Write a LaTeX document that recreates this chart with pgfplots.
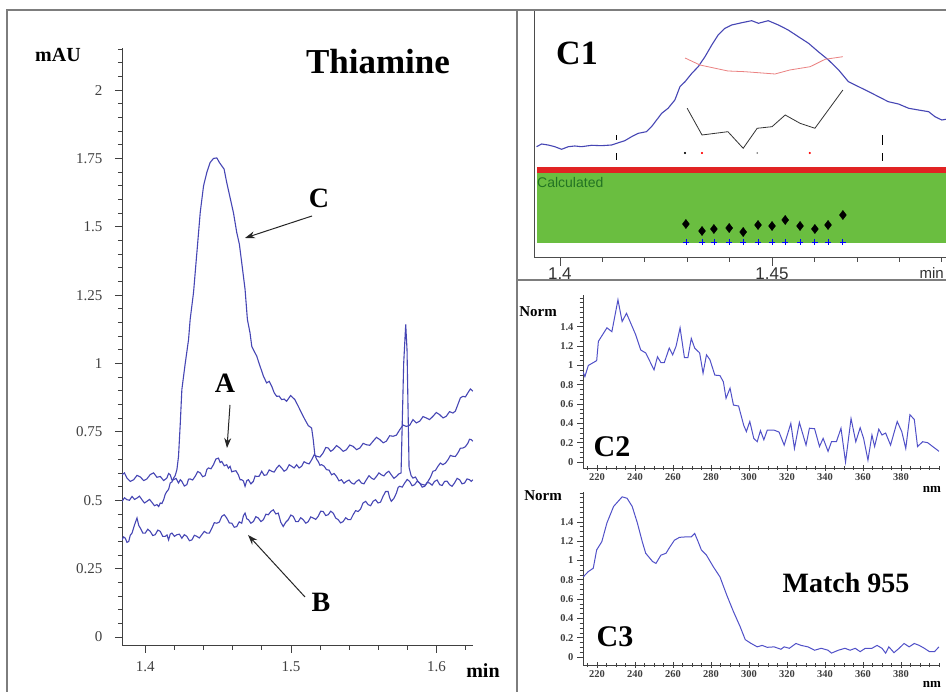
\documentclass[border=0pt]{standalone}
\usepackage{pgfplots}
\pgfplotsset{compat=1.18}
\usepackage{fontspec}
\setmainfont{Liberation Serif}
\newfontfamily\sansf{Liberation Sans}
\usetikzlibrary{arrows.meta}
\definecolor{curve}{RGB}{70,70,180}
\definecolor{spec}{RGB}{80,80,200}
\definecolor{frame}{RGB}{125,125,125}
\definecolor{band}{RGB}{106,190,64}
\definecolor{redband}{RGB}{225,35,35}
\definecolor{pinkc}{RGB}{235,130,130}
\definecolor{calc}{RGB}{35,115,35}
\begin{document}
\begin{tikzpicture}[x=1pt,y=1pt]
\path[use as bounding box] (0,0) rectangle (946,692);
\clip (0,0) rectangle (946,692);
\fill[white] (0,0) rectangle (946,692);

% ---------------- main chromatogram ----------------
\begin{axis}[at={(122pt,46pt)}, anchor=south west, scale only axis,
  width=351pt, height=598pt,
  xmin=1.384, xmax=1.625, ymin=-0.033, ymax=2.154,
  axis x line=bottom, axis y line=left,
  axis line style={-, draw=black!75, line width=1pt},
  xtick={1.4,1.5,1.6}, minor xtick={1.42,1.44,1.46,1.48,1.52,1.54,1.56,1.58,1.62},
  ytick={0,0.25,0.5,0.75,1,1.25,1.5,1.75,2},
  minor ytick={0.05,0.1,0.15,0.2,0.3,0.35,0.4,0.45,0.55,0.6,0.65,0.7,0.8,0.85,0.9,0.95,1.05,1.1,1.15,1.2,1.3,1.35,1.4,1.45,1.55,1.6,1.65,1.7,1.8,1.85,1.9,1.95,2.05,2.1,2.15},
  tick align=outside, major tick length=7pt, minor tick length=4pt,
  tick style={black!75, line width=0.8pt},
  ticklabel style={font=\fontsize{15}{15}\selectfont, text=black!75},
  xticklabel style={yshift=-5pt},
  yticklabel style={xshift=-9pt},
  /pgf/number format/assume math mode=true,
  /pgf/number format/fixed, /pgf/number format/precision=2,
]
% A
\addplot[curve, line width=1.1pt] coordinates {
(1.3840,0.593)(1.3857,0.600)(1.3874,0.581)(1.3897,0.569)(1.3920,0.575)(1.3943,0.591)(1.3966,0.585)(1.3989,0.572)(1.4011,0.578)(1.4034,0.594)(1.4057,0.600)(1.4080,0.584)(1.4103,0.587)(1.4126,0.572)(1.4148,0.581)(1.4160,0.598)(1.4171,0.593)(1.4183,0.574)(1.4194,0.575)(1.4211,0.580)(1.4228,0.563)(1.4240,0.575)(1.4251,0.569)(1.4268,0.552)(1.4285,0.557)(1.4297,0.577)(1.4308,0.578)(1.4325,0.574)(1.4342,0.587)(1.4360,0.605)(1.4377,0.600)(1.4394,0.586)(1.4411,0.590)(1.4423,0.613)(1.4434,0.618)(1.4451,0.615)(1.4468,0.630)(1.4485,0.651)(1.4502,0.654)(1.4514,0.638)(1.4525,0.642)(1.4542,0.626)(1.4559,0.630)(1.4571,0.617)(1.4582,0.624)(1.4594,0.604)(1.4605,0.606)(1.4622,0.608)(1.4639,0.593)(1.4651,0.575)(1.4662,0.575)(1.4674,0.570)(1.4685,0.551)(1.4697,0.572)(1.4708,0.575)(1.4725,0.560)(1.4742,0.569)(1.4754,0.589)(1.4765,0.587)(1.4782,0.588)(1.4799,0.606)(1.4816,0.591)(1.4833,0.593)(1.4851,0.611)(1.4868,0.606)(1.4885,0.603)(1.4902,0.618)(1.4919,0.628)(1.4936,0.618)(1.4953,0.606)(1.4970,0.612)(1.4988,0.630)(1.5005,0.624)(1.5022,0.618)(1.5039,0.630)(1.5056,0.618)(1.5073,0.624)(1.5090,0.641)(1.5107,0.636)(1.5125,0.633)(1.5142,0.648)(1.5159,0.666)(1.5176,0.661)(1.5199,0.658)(1.5221,0.673)(1.5239,0.693)(1.5256,0.691)(1.5273,0.679)(1.5290,0.685)(1.5313,0.700)(1.5336,0.691)(1.5359,0.679)(1.5381,0.685)(1.5404,0.702)(1.5427,0.697)(1.5450,0.685)(1.5473,0.691)(1.5496,0.708)(1.5518,0.703)(1.5541,0.701)(1.5564,0.716)(1.5587,0.730)(1.5610,0.722)(1.5633,0.710)(1.5655,0.716)(1.5678,0.736)(1.5701,0.734)(1.5724,0.738)(1.5747,0.758)(1.5770,0.775)(1.5792,0.770)(1.5815,0.774)(1.5838,0.795)(1.5861,0.783)(1.5884,0.789)(1.5907,0.806)(1.5929,0.801)(1.5952,0.795)(1.5975,0.807)(1.5998,0.821)(1.6021,0.813)(1.6044,0.801)(1.6066,0.807)(1.6089,0.824)(1.6112,0.819)(1.6129,0.826)(1.6146,0.850)(1.6163,0.874)(1.6180,0.880)(1.6198,0.878)(1.6215,0.893)(1.6232,0.907)(1.6249,0.899)};
% B
\addplot[curve, line width=1.1pt] coordinates {
(1.3840,0.355)(1.3851,0.366)(1.3863,0.361)(1.3874,0.346)(1.3886,0.349)(1.3897,0.372)(1.3909,0.380)(1.3926,0.410)(1.3943,0.435)(1.3955,0.408)(1.3966,0.398)(1.3983,0.380)(1.4000,0.380)(1.4017,0.394)(1.4034,0.386)(1.4051,0.371)(1.4068,0.374)(1.4086,0.391)(1.4103,0.386)(1.4120,0.368)(1.4137,0.368)(1.4149,0.373)(1.4160,0.355)(1.4171,0.376)(1.4183,0.380)(1.4200,0.368)(1.4217,0.374)(1.4234,0.376)(1.4251,0.361)(1.4268,0.374)(1.4285,0.368)(1.4303,0.352)(1.4320,0.355)(1.4337,0.372)(1.4354,0.368)(1.4371,0.362)(1.4388,0.374)(1.4405,0.386)(1.4422,0.380)(1.4440,0.380)(1.4457,0.398)(1.4474,0.418)(1.4491,0.416)(1.4508,0.420)(1.4525,0.441)(1.4542,0.447)(1.4559,0.435)(1.4577,0.417)(1.4594,0.416)(1.4611,0.401)(1.4628,0.404)(1.4645,0.421)(1.4662,0.416)(1.4674,0.444)(1.4685,0.453)(1.4697,0.432)(1.4708,0.429)(1.4725,0.416)(1.4742,0.422)(1.4759,0.440)(1.4776,0.435)(1.4794,0.422)(1.4811,0.429)(1.4828,0.449)(1.4845,0.447)(1.4862,0.459)(1.4879,0.465)(1.4896,0.450)(1.4913,0.453)(1.4930,0.420)(1.4947,0.404)(1.4965,0.420)(1.4982,0.429)(1.4999,0.446)(1.5016,0.441)(1.5033,0.422)(1.5050,0.422)(1.5067,0.436)(1.5084,0.429)(1.5102,0.416)(1.5119,0.422)(1.5136,0.439)(1.5153,0.435)(1.5170,0.430)(1.5187,0.441)(1.5204,0.460)(1.5221,0.459)(1.5239,0.444)(1.5256,0.447)(1.5273,0.460)(1.5290,0.453)(1.5307,0.435)(1.5324,0.429)(1.5341,0.417)(1.5358,0.422)(1.5376,0.436)(1.5393,0.429)(1.5410,0.429)(1.5427,0.447)(1.5444,0.462)(1.5461,0.459)(1.5478,0.468)(1.5495,0.490)(1.5513,0.496)(1.5530,0.484)(1.5547,0.480)(1.5564,0.496)(1.5581,0.502)(1.5598,0.490)(1.5615,0.493)(1.5632,0.514)(1.5650,0.532)(1.5667,0.532)(1.5678,0.509)(1.5689,0.496)(1.5707,0.507)(1.5724,0.526)(1.5736,0.547)(1.5747,0.551)(1.5764,0.548)(1.5781,0.563)(1.5798,0.576)(1.5815,0.569)(1.5832,0.553)(1.5849,0.557)(1.5867,0.570)(1.5884,0.563)(1.5901,0.548)(1.5918,0.551)(1.5935,0.565)(1.5952,0.563)(1.5969,0.555)(1.5986,0.569)(1.6004,0.574)(1.6021,0.557)(1.6038,0.554)(1.6055,0.569)(1.6072,0.570)(1.6089,0.557)(1.6106,0.551)(1.6123,0.563)(1.6141,0.580)(1.6158,0.575)(1.6175,0.560)(1.6192,0.563)(1.6209,0.578)(1.6226,0.575)(1.6238,0.569)(1.6249,0.575)};
% C
\addplot[curve, line width=1.1pt] coordinates {
(1.3840,0.496)(1.3857,0.509)(1.3874,0.502)(1.3891,0.500)(1.3909,0.514)(1.3926,0.503)(1.3943,0.508)(1.3960,0.515)(1.3977,0.502)(1.3994,0.490)(1.4011,0.496)(1.4029,0.503)(1.4046,0.492)(1.4063,0.480)(1.4080,0.484)(1.4092,0.477)(1.4103,0.490)(1.4114,0.488)(1.4126,0.502)(1.4137,0.522)(1.4148,0.532)(1.4160,0.540)(1.4171,0.563)(1.4183,0.567)(1.4194,0.581)(1.4205,0.590)(1.4217,0.612)(1.4228,0.660)(1.4240,0.780)(1.4251,0.905)(1.4274,1.000)(1.4297,1.088)(1.4308,1.161)(1.4331,1.259)(1.4354,1.405)(1.4377,1.552)(1.4400,1.650)(1.4422,1.698)(1.4445,1.735)(1.4468,1.750)(1.4491,1.752)(1.4509,1.735)(1.4525,1.723)(1.4541,1.711)(1.4559,1.662)(1.4582,1.607)(1.4605,1.552)(1.4628,1.479)(1.4646,1.436)(1.4662,1.369)(1.4685,1.271)(1.4701,1.161)(1.4719,1.112)(1.4731,1.063)(1.4742,1.051)(1.4765,1.027)(1.4788,0.990)(1.4811,0.954)(1.4833,0.929)(1.4851,0.935)(1.4868,0.917)(1.4885,0.893)(1.4902,0.880)(1.4919,0.881)(1.4936,0.868)(1.4953,0.870)(1.4970,0.862)(1.4998,0.883)(1.5027,0.868)(1.5050,0.844)(1.5073,0.819)(1.5096,0.795)(1.5119,0.773)(1.5142,0.764)(1.5153,0.722)(1.5164,0.667)(1.5176,0.650)(1.5187,0.642)(1.5199,0.628)(1.5210,0.630)(1.5227,0.625)(1.5244,0.612)(1.5262,0.610)(1.5279,0.593)(1.5296,0.598)(1.5313,0.587)(1.5330,0.571)(1.5347,0.575)(1.5364,0.562)(1.5381,0.569)(1.5399,0.574)(1.5416,0.563)(1.5433,0.559)(1.5450,0.569)(1.5467,0.575)(1.5484,0.563)(1.5501,0.560)(1.5518,0.575)(1.5536,0.590)(1.5553,0.581)(1.5570,0.576)(1.5587,0.587)(1.5604,0.600)(1.5621,0.593)(1.5638,0.589)(1.5655,0.600)(1.5672,0.606)(1.5689,0.593)(1.5707,0.580)(1.5724,0.587)(1.5740,0.596)(1.5756,0.600)(1.5774,1.000)(1.5788,1.143)(1.5797,1.050)(1.5811,0.620)(1.5825,0.590)(1.5838,0.581)(1.5855,0.585)(1.5872,0.569)(1.5889,0.560)(1.5906,0.557)(1.5924,0.555)(1.5941,0.569)(1.5958,0.584)(1.5975,0.606)(1.5992,0.609)(1.6009,0.624)(1.6026,0.636)(1.6043,0.630)(1.6061,0.636)(1.6078,0.648)(1.6095,0.664)(1.6112,0.661)(1.6129,0.660)(1.6146,0.673)(1.6163,0.690)(1.6180,0.691)(1.6198,0.696)(1.6215,0.709)(1.6226,0.723)(1.6237,0.722)(1.6249,0.716)};
\end{axis}

% ---------------- C1 panel ----------------
\begin{axis}[at={(534pt,435pt)}, anchor=south west, scale only axis,
  width=412pt, height=247pt,
  xmin=1.3939, xmax=1.4910, ymin=0, ymax=247,
  axis x line=bottom, axis y line=left,
  axis line style={-, draw=black!70, line width=0.9pt},
  ytick=\empty, xtick={1.4,1.45},
  minor xtick={1.41,1.42,1.43,1.44,1.46,1.47,1.48,1.49},
  tick align=outside, major tick length=9pt, minor tick length=5pt,
  tick style={black!70, line width=0.7pt},
  xticklabel style={font=\sansf\fontsize{17}{17}\selectfont, text=black!80, yshift=2pt},
  /pgf/number format/assume math mode=true,
  /pgf/number format/fixed, /pgf/number format/precision=2,
]
\addplot[fill=band, draw=none] coordinates {(1.3946,14)(1.4915,14)(1.4915,84)(1.3946,84)} -- cycle;
\addplot[fill=redband, draw=none] coordinates {(1.3946,84)(1.4915,84)(1.4915,90)(1.3946,90)} -- cycle;
\addplot[curve, line width=1.1pt] coordinates {
(1.3945,110.3)(1.3957,113)(1.3972,112)(1.3988,110.3)(1.4004,107.7)(1.4020,110.3)(1.4035,111)(1.4051,110.3)(1.4075,111.7)(1.4098,111.3)(1.4122,112)(1.4134,113.7)(1.4153,116.3)(1.4169,120.3)(1.4185,123.7)(1.4204,125.3)(1.4216,130.3)(1.4228,137)(1.4240,143.7)(1.4255,148.7)(1.4271,157)(1.4283,170.3)(1.4295,175.3)(1.4311,183.7)(1.4326,190.3)(1.4342,200.3)(1.4358,212)(1.4373,222)(1.4389,228.7)(1.4405,232)(1.4429,234.3)(1.4452,236.3)(1.4468,233.7)(1.4491,236.3)(1.4515,232)(1.4538,227)(1.4562,220.3)(1.4586,213.7)(1.4609,205.3)(1.4633,197)(1.4657,187)(1.4680,175.3)(1.4704,170.3)(1.4728,165.3)(1.4751,160.3)(1.4774,155.3)(1.4798,153)(1.4822,148.7)(1.4845,147)(1.4869,145.3)(1.4884,140.3)(1.4900,137)(1.4910,137.7)};
\addplot[pinkc, line width=0.8pt] coordinates {
(1.4295,199)(1.4330,192)(1.4396,186)(1.4436,185.3)(1.4507,183)(1.4542,187)(1.4590,190.3)(1.4625,197.7)(1.4667,200.3)};
\addplot[black!80, line width=0.8pt] coordinates {
(1.4300,148.7)(1.4335,122)(1.4396,125.3)(1.4432,108.7)(1.4465,128.7)(1.4500,130.3)(1.4531,142)(1.4566,133.7)(1.4601,128.7)(1.4667,167)};
\addplot[black, line width=0.8pt] coordinates {(1.4134,117)(1.4134,122)};
\addplot[black, line width=0.8pt] coordinates {(1.4134,97)(1.4134,104)};
\addplot[black, line width=0.8pt] coordinates {(1.4759,112)(1.4759,122)};
\addplot[black, line width=0.8pt] coordinates {(1.4759,96)(1.4759,104)};
\addplot[only marks, mark=*, mark size=0.8pt, black] coordinates {(1.4295,104)};
\addplot[only marks, mark=*, mark size=0.8pt, red] coordinates {(1.4335,104)(1.4589,104)};
\addplot[only marks, mark=*, mark size=0.6pt, gray] coordinates {(1.4465,104)};
\addplot[only marks, mark=diamond*, mark size=4.6pt, black] coordinates {
(1.4297,33)(1.4335,26)(1.4363,28)(1.4399,29)(1.4432,25)(1.4467,32)(1.4500,31)(1.4531,37)(1.4566,31)(1.4601,28)(1.4632,32)(1.4667,42)};
\addplot[only marks, mark=+, mark size=3pt, blue, line width=0.8pt] coordinates {
(1.4297,15)(1.4335,15)(1.4363,15)(1.4399,15)(1.4432,15)(1.4467,15)(1.4500,15)(1.4531,15)(1.4566,15)(1.4601,15)(1.4632,15)(1.4667,15)};
\end{axis}

% ---------------- C2 panel ----------------
\begin{axis}[at={(583pt,224pt)}, anchor=south west, scale only axis,
  width=356pt, height=173pt,
  xmin=212.6, xmax=400, ymin=-0.062, ymax=1.73,
  axis x line=bottom, axis y line=left,
  axis line style={-, draw=black!75, line width=0.9pt},
  xtick={220,240,260,280,300,320,340,360,380},
  minor xtick={215,225,230,235,245,250,255,265,270,275,285,290,295,305,310,315,325,330,335,345,350,355,365,370,375,385,390,395,400},
  ytick={0,0.2,0.4,0.6,0.8,1,1.2,1.4},
  minor ytick={0.05,0.1,0.15,0.25,0.3,0.35,0.45,0.5,0.55,0.65,0.7,0.75,0.85,0.9,0.95,1.05,1.1,1.15,1.25,1.3,1.35,1.45,1.5,1.55,1.6,1.65,1.7},
  xtick align=center, ytick align=outside,
  major tick length=6pt, minor tick length=3.5pt,
  tick style={black!75, line width=0.7pt},
  ticklabel style={font=\bfseries\fontsize{10.5}{10.5}\selectfont, text=black!75},
  xticklabel style={yshift=1pt},
  /pgf/number format/assume math mode=true,
  /pgf/number format/fixed, /pgf/number format/precision=2,
]
\addplot[spec, line width=1pt] coordinates {
(212.7,0.93)(213.6,0.885)(215.4,1.0)(219.8,1.05)(220.7,1.25)(225.2,1.39)(227.8,1.35)(231,1.68)(233.2,1.455)(235.5,1.54)(240.3,1.32)(243,1.16)(245.6,1.13)(250,0.955)(251.8,1.09)(253.6,1.03)(255.4,1.03)(258,1.18)(259.8,1.11)(261.6,1.2)(263.7,1.39)(266,1.08)(267.8,1.08)(269.6,1.28)(271.4,1.18)(274,1.13)(275.8,0.92)(277.6,1.11)(279.4,1.06)(282,0.9)(284.7,0.895)(286.5,0.83)(287.9,0.66)(290,0.765)(291.8,0.59)(294.5,0.58)(297.2,0.38)(298.6,0.315)(300.4,0.42)(302.5,0.245)(304.3,0.21)(306,0.325)(307.8,0.23)(309.6,0.33)(313.2,0.33)(315.8,0.31)(318.5,0.175)(322,0.4)(323.9,0.14)(326.5,0.41)(330,0.175)(331.8,0.35)(334.5,0.345)(337.1,0.16)(339,0.245)(341.6,0.11)(343.4,0.21)(346,0.21)(348.4,0.35)(350.8,0.0)(353.7,0.45)(356.2,0.21)(358.5,0.355)(360.3,0.245)(362.6,0.02)(364.7,0.28)(366.1,0.16)(368.3,0.34)(370,0.28)(371.9,0.3)(374.5,0.175)(378,0.42)(380.4,0.315)(382.5,0.14)(384.7,0.49)(387,0.44)(388.7,0.16)(391.4,0.21)(394,0.2)(396.7,0.16)(399.4,0.12)(400,0.11)};
\end{axis}

% ---------------- C3 panel ----------------
\begin{axis}[at={(583pt,27pt)}, anchor=south west, scale only axis,
  width=356pt, height=173pt,
  xmin=212.6, xmax=400, ymin=-0.083, ymax=1.71,
  axis x line=bottom, axis y line=left,
  axis line style={-, draw=black!75, line width=0.9pt},
  xtick={220,240,260,280,300,320,340,360,380},
  minor xtick={215,225,230,235,245,250,255,265,270,275,285,290,295,305,310,315,325,330,335,345,350,355,365,370,375,385,390,395,400},
  ytick={0,0.2,0.4,0.6,0.8,1,1.2,1.4},
  minor ytick={0.05,0.1,0.15,0.25,0.3,0.35,0.45,0.5,0.55,0.65,0.7,0.75,0.85,0.9,0.95,1.05,1.1,1.15,1.25,1.3,1.35,1.45,1.5,1.55,1.6,1.65,1.7},
  xtick align=center, ytick align=outside,
  major tick length=6pt, minor tick length=3.5pt,
  tick style={black!75, line width=0.7pt},
  ticklabel style={font=\bfseries\fontsize{10.5}{10.5}\selectfont, text=black!75},
  xticklabel style={yshift=1pt},
  /pgf/number format/assume math mode=true,
  /pgf/number format/fixed, /pgf/number format/precision=2,
]
\addplot[spec, line width=1pt] coordinates {
(212.7,0.83)(215.4,0.885)(218,0.92)(219.8,1.11)(222.5,1.195)(225.2,1.39)(228.7,1.56)(233.2,1.66)(235.8,1.645)(238.5,1.56)(241.2,1.39)(243.8,1.195)(245.6,1.075)(249.2,0.99)(251,0.97)(253.6,1.055)(256.3,1.075)(258,1.13)(260.7,1.21)(263.4,1.24)(267,1.245)(269.6,1.245)(271.4,1.28)(273.2,1.195)(274.9,1.11)(277.6,1.055)(281.2,0.935)(284.7,0.83)(288.3,0.64)(291.8,0.47)(295.3,0.315)(298,0.18)(300.7,0.145)(304.3,0.105)(306.9,0.12)(309.6,0.1)(313.2,0.105)(316.8,0.08)(318.5,0.105)(321.2,0.09)(324.7,0.14)(327.4,0.12)(331,0.105)(334.5,0.07)(338,0.09)(341.6,0.07)(343.4,0.04)(347,0.07)(350.5,0.09)(353.2,0.07)(355.9,0.09)(358.5,0.055)(361.2,0.09)(364.7,0.09)(367.4,0.12)(370,0.09)(371.9,0.04)(373.6,0.105)(376.3,0.045)(379,0.09)(381.6,0.14)(384.3,0.105)(387,0.14)(389.6,0.12)(392.3,0.09)(395,0.055)(397.6,0.055)(400,0.105)};
\end{axis}

% ---------------- frame ----------------
\draw[frame, line width=1.4pt] (7,0) -- (7,682) -- (946,682);
\draw[frame, line width=1.4pt] (517,0) -- (517,682);
\draw[frame, line width=1.4pt] (517,412) -- (946,412);

% ---------------- texts ----------------
\node[font=\bfseries\fontsize{20}{20}\selectfont] at (58,637) {mAU};
\node[font=\bfseries\fontsize{35}{35}\selectfont] at (378,630) {Thiamine};
\node[font=\bfseries\fontsize{20}{20}\selectfont] at (483,21) {min};
\node[font=\bfseries\fontsize{28}{28}\selectfont] at (319,494) {C};
\node[font=\bfseries\fontsize{28}{28}\selectfont] at (225,309) {A};
\node[font=\bfseries\fontsize{28}{28}\selectfont] at (321,90) {B};
\draw[black!85, line width=1pt, -{Stealth[length=10pt,width=7pt]}] (312,476) -- (245,454);
\draw[black!85, line width=1pt, -{Stealth[length=10pt,width=7pt]}] (230,287) -- (227,244);
\draw[black!85, line width=1pt, -{Stealth[length=10pt,width=7pt]}] (305,95) -- (248,157);
\node[font=\bfseries\fontsize{34}{34}\selectfont] at (577,639) {C1};
\node[anchor=west, inner sep=0pt, text=calc, font=\sansf\fontsize{14}{14}\selectfont] at (537,509) {Calculated};
\node[anchor=east, inner sep=0pt, font=\sansf\fontsize{15}{15}\selectfont, text=black!80] at (944,419) {min};
\node[font=\bfseries\fontsize{15}{15}\selectfont] at (538,380) {Norm};
\node[font=\bfseries\fontsize{15}{15}\selectfont] at (543,196) {Norm};
\node[font=\bfseries\fontsize{30}{30}\selectfont] at (612,245) {C2};
\node[font=\bfseries\fontsize{30}{30}\selectfont] at (615,55) {C3};
\node[font=\bfseries\fontsize{28}{28}\selectfont] at (846,109) {Match 955};
\node[font=\bfseries\fontsize{13}{13}\selectfont] at (932,203) {nm};
\node[font=\bfseries\fontsize{13}{13}\selectfont] at (932,8) {nm};
\end{tikzpicture}
\end{document}
